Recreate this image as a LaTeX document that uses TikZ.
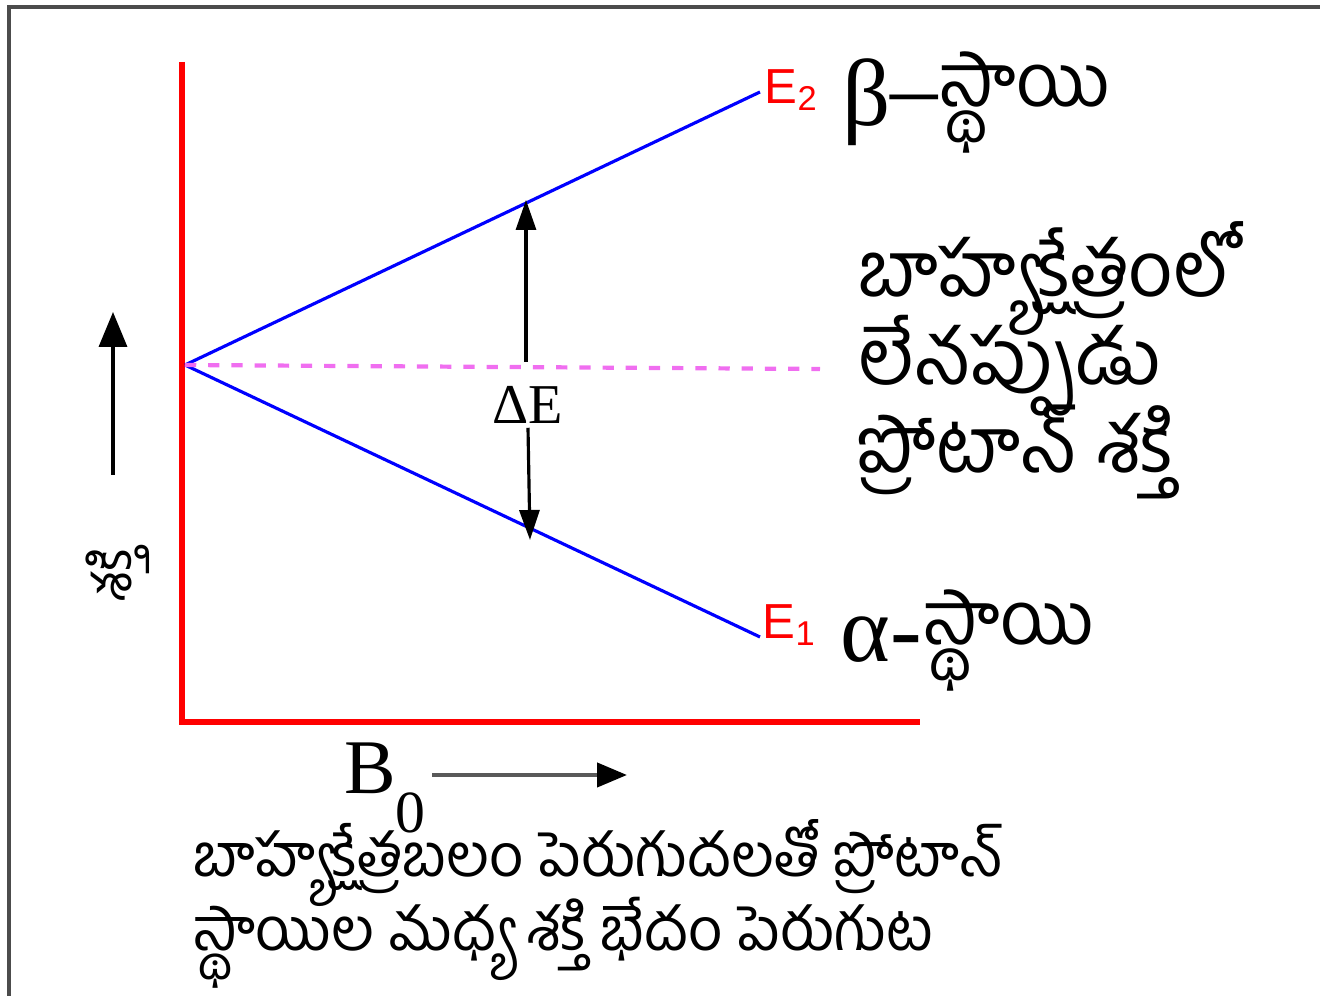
\documentclass[tikz,border=0pt]{standalone}
\usepackage{fontspec}
\setmainfont{Liberation Serif}
\newfontfamily\telugu[Script=Telugu]{Hind Guntur}
\newfontfamily\arialfont{Liberation Sans}
\usetikzlibrary{arrows.meta, positioning}
\definecolor{zeroviolet}{RGB}{240,110,240}
\newcommand\tightlines{\lineskiplimit=-40pt\relax}

\begin{document}
\begin{tikzpicture}[x=0.1mm, y=-0.1mm,
    axisline/.style={red, line width=1.8pt},
    levelline/.style={blue, line width=0.9pt},
    gapline/.style={black, line width=0.9pt, -{Triangle[length=3mm, width=2mm]}},
    elabel/.style={red, font=\arialfont\fontsize{14}{16}\selectfont, inner sep=0pt},
    statelabel/.style={font=\fontsize{27}{30}\selectfont, inner sep=0pt, anchor=west},
    statetelugu/.style={font=\telugu\fontsize{21}{24}\selectfont, inner sep=0pt, anchor=west},
    telugutext/.style={align=left, inner sep=0pt}]
    % Frame
    \useasboundingbox (0,0) rectangle (1320,996);
    \draw[gray!60!black, line width=1.2pt] (9,996) -- (9,7) -- (1320,7);

    % Axes
    \coordinate (ytop) at (182,62);
    \coordinate (origin) at (182,722);
    \coordinate (xend) at (920,722);
    \draw[axisline] (ytop) -- (origin) -- (xend);

    % Energy levels
    \coordinate (zero) at (185,365);
    \coordinate (betaend) at (760,92);
    \coordinate (alphaend) at (760,637);
    \coordinate (zeroend) at (820,369);
    \draw[levelline] (zero) -- (betaend);
    \draw[levelline] (zero) -- (alphaend);
    \draw[zeroviolet, line width=1.2pt, dash pattern=on 3.2pt off 3.4pt] (zero) -- (zeroend);

    % Level labels
    \node[elabel, anchor=west] (etwo) at (764,90) {E\textsubscript{2}};
    \node[elabel, anchor=west] (eone) at (762,625) {E\textsubscript{1}};
    \node[statelabel] (beta) at (842,102) {β\raisebox{0.06em}{–}};
    \node[statetelugu] (betastate) at (beta.east) {స్థాయి};
    \node[statelabel] (alpha) at (840,640) {α-};
    \node[statetelugu] (alphastate) at (alpha.east) {స్థాయి};

    % Energy gap
    \node[font=\fontsize{16}{18}\selectfont, inner sep=1pt] (gap) at (528,405) {ΔE};
    \coordinate (gaptop) at (526,200);
    \coordinate (gapbottom) at (530,540);
    \draw[gapline] (526,362) -- (gaptop);
    \draw[gapline] (gap.south) -- (gapbottom);

    % Zero field note
    \node[telugutext, font=\telugu\fontsize{22}{25}\selectfont\tightlines, anchor=west] (zeronote) at (858,360)
        {బాహ్యక్షేత్రంలో\\లేనప్పుడు\\ప్రోటాన్ శక్తి};

    % Energy axis
    \coordinate (ylow) at (113,475);
    \coordinate (yhigh) at (113,312);
    \draw[line width=1pt, -{Triangle[length=3.5mm, width=2.8mm]}] (ylow) -- (yhigh);
    \node[font=\telugu\fontsize{15}{16}\selectfont, rotate=90, inner sep=0pt] (energy) at (118,575) {శక్తి};

    % Field axis
    \node[font=\fontsize{22}{24}\selectfont, inner sep=0pt] (field) at (385,788)
        {B\raisebox{-0.5em}{\fontsize{17}{17}\selectfont 0}};
    \coordinate (fieldend) at (627,775);
    \draw[gray!70!black, line width=1.2pt, -{Triangle[length=3mm, width=2.4mm, black]}] (432,775) -- (fieldend);

    % Caption
    \node[telugutext, font=\telugu\fontsize{17}{21}\selectfont\tightlines, anchor=west] (caption) at (193,904)
        {బాహ్యక్షేత్రబలం పెరుగుదలతో ప్రోటాన్\\స్థాయిల మధ్య శక్తి భేదం పెరుగుట};
\end{tikzpicture}
\end{document}
